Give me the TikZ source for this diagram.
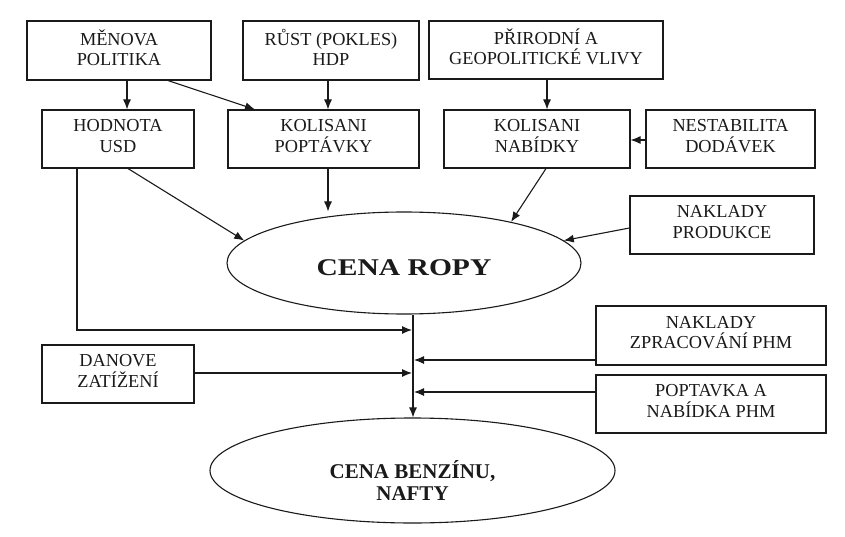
\documentclass[tikz,border=0pt]{standalone}
\usepackage{fontspec}
\setmainfont{Liberation Serif}
\usetikzlibrary{shapes.geometric,arrows.meta}
\definecolor{ink}{HTML}{1A1A1A}
\begin{document}
\begin{tikzpicture}[x=1pt,y=-1pt,
  box/.style={draw=ink,line width=1.1pt,rectangle,inner sep=0pt},
  txt/.style={font=\fontsize{18.3}{20.5}\selectfont,align=center,text=ink,inner sep=0pt},
  big/.style={align=center,text=ink,inner sep=0pt},
  oval/.style={draw=ink,line width=1.1pt,ellipse,inner sep=0pt},
  arr/.style={draw=ink,line width=1.1pt,-{Latex[length=10pt,width=8pt]}}]
\useasboundingbox (0,0) rectangle (845,537);
\fill[white] (0,0) rectangle (845,537);

% top row
\node[box,minimum width=184pt,minimum height=59pt,label={[txt,yshift=3pt]center:{MĚNOVA\\POLITIKA}}] (men) at (119,50.5) {};
\node[box,minimum width=176pt,minimum height=59pt,label={[txt,yshift=3pt]center:{RŮST (POKLES)\\HDP}}] (rust) at (331,50.5) {};
\node[box,minimum width=234pt,minimum height=58pt,label={[txt,yshift=3pt]center:{PŘIRODNÍ A\\GEOPOLITICKÉ VLIVY}}] (prir) at (546,50) {};

% second row
\node[box,minimum width=152pt,minimum height=58pt,label={[txt,yshift=3pt]center:{HODNOTA\\USD}}] (hod) at (118,139) {};
\node[box,minimum width=191pt,minimum height=58pt,label={[txt,yshift=3pt]center:{KOLISANI\\POPTÁVKY}}] (kpop) at (323.5,139) {};
\node[box,minimum width=186pt,minimum height=58pt,label={[txt,yshift=3pt]center:{KOLISANI\\NABÍDKY}}] (knab) at (537,139) {};
\node[box,minimum width=169pt,minimum height=58pt,label={[txt,yshift=3pt]center:{NESTABILITA\\DODÁVEK}}] (nest) at (730.5,139) {};

% right column
\node[box,minimum width=184pt,minimum height=58pt,label={[txt,yshift=3pt]center:{NAKLADY\\PRODUKCE}}] (nprod) at (722,225) {};
\node[box,minimum width=230pt,minimum height=59pt,label={[txt,yshift=3pt]center:{NAKLADY\\ZPRACOVÁNÍ PHM}}] (nzpr) at (711,335.5) {};
\node[box,minimum width=230pt,minimum height=58pt,label={[txt,yshift=3pt]center:{POPTAVKA A\\NABÍDKA PHM}}] (popt) at (711,404) {};
\node[box,minimum width=152pt,minimum height=58pt,label={[txt,yshift=3pt]center:{DANOVE\\ZATÍŽENÍ}}] (dan) at (118,374) {};

% ellipses
\node[oval,minimum width=354pt,minimum height=102pt,
  label={[big,yshift=-5pt]center:{\fontsize{24}{28}\selectfont\bfseries\scalebox{1.23}[1]{CENA ROPY}}}] (ropa) at (404,263) {};
\node[oval,minimum width=405pt,minimum height=105pt,
  label={[big,yshift=-10pt,font=\fontsize{21}{22}\selectfont\bfseries]center:{CENA BENZÍNU,\\NAFTY}}] (benz) at (412.5,470.5) {};

% junction points on the trunk
\coordinate (j1) at (412,330);
\coordinate (j2) at (412,373);
\coordinate (j3) at (414,360);
\coordinate (j4) at (414,392);

% connectors
\draw[arr] (men.south -| 127,0) -- (hod.north -| 127,0);
\draw[arr] (men.south -| 168,0) -- (kpop.north -| 255,0);
\draw[arr] (rust.south -| 328,0) -- (kpop.north -| 328,0);
\draw[arr] (kpop.south -| 328,0) -- (ropa.north -| 328,0);
\draw[arr] (hod.south -| 128,0) -- (ropa.172);
\draw[arr] (prir.south -| 547,0) -- (knab.north -| 547,0);
\draw[arr] (nest.west |- 0,140) -- (knab.east |- 0,140);
\draw[arr] (knab.south -| 546,0) -- (ropa.21);
\draw[arr] (nprod.west |- 0,228) -- (ropa.8);
\draw[arr] (ropa.south -| 413,0) -- (benz.north -| 413,0);
\draw[arr] (hod.south -| 77,0) |- (j1);
\draw[arr] (dan.east |- 0,373) -- (j2);
\draw[arr] (nzpr.west |- 0,360) -- (j3);
\draw[arr] (popt.west |- 0,392) -- (j4);
\end{tikzpicture}
\end{document}
